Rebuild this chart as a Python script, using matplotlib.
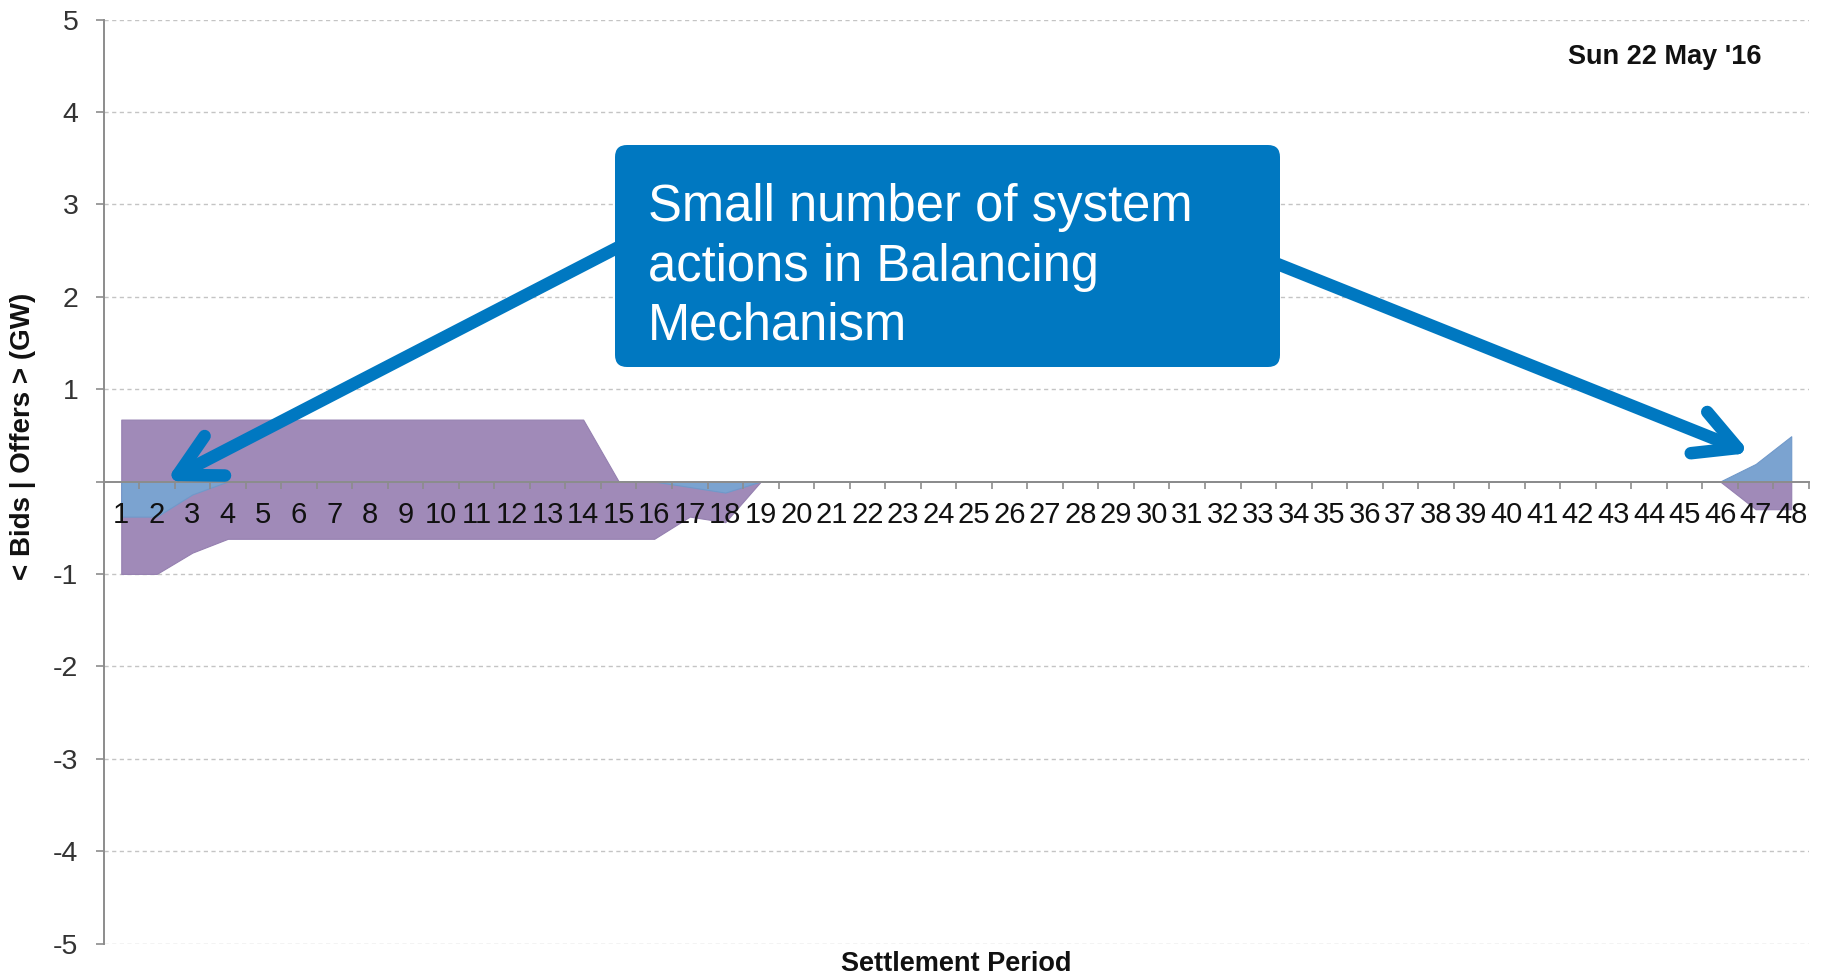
import matplotlib
matplotlib.use('Agg')
import matplotlib.pyplot as plt
from matplotlib.patches import FancyBboxPatch
from matplotlib.transforms import IdentityTransform

plt.rcParams['font.family'] = ['Liberation Sans', 'DejaVu Sans']

# ---------------- data ----------------
periods = list(range(1, 49))
period_labels = [str(p) for p in periods]

# purple series (total offers above zero / bids below zero), GW
purple_upper = [0.67, 0.67, 0.67, 0.67, 0.67, 0.67, 0.67, 0.67, 0.67, 0.67, 0.67, 0.67,
                0.67, 0.67, 0.0, 0.0, 0.0, 0.0, 0.0, 0.0, 0.0, 0.0, 0.0, 0.0,
                0.0, 0.0, 0.0, 0.0, 0.0, 0.0, 0.0, 0.0, 0.0, 0.0, 0.0, 0.0,
                0.0, 0.0, 0.0, 0.0, 0.0, 0.0, 0.0, 0.0, 0.0, 0.0, 0.0, 0.0]
purple_lower = [-1.0, -1.0, -0.77, -0.62, -0.62, -0.62, -0.62, -0.62, -0.62, -0.62, -0.62, -0.62,
                -0.62, -0.62, -0.62, -0.62, -0.38, -0.44, 0.0, 0.0, 0.0, 0.0, 0.0, 0.0,
                0.0, 0.0, 0.0, 0.0, 0.0, 0.0, 0.0, 0.0, 0.0, 0.0, 0.0, 0.0,
                0.0, 0.0, 0.0, 0.0, 0.0, 0.0, 0.0, 0.0, 0.0, 0.0, -0.30, -0.30]
# blue series (system actions in Balancing Mechanism), GW
blue_upper = [0.0, 0.0, 0.0, 0.0, 0.0, 0.0, 0.0, 0.0, 0.0, 0.0, 0.0, 0.0,
              0.0, 0.0, 0.0, 0.0, 0.0, 0.0, 0.0, 0.0, 0.0, 0.0, 0.0, 0.0,
              0.0, 0.0, 0.0, 0.0, 0.0, 0.0, 0.0, 0.0, 0.0, 0.0, 0.0, 0.0,
              0.0, 0.0, 0.0, 0.0, 0.0, 0.0, 0.0, 0.0, 0.0, 0.0, 0.19, 0.49]
blue_lower = [-0.38, -0.38, -0.14, 0.0, 0.0, 0.0, 0.0, 0.0, 0.0, 0.0, 0.0, 0.0,
              0.0, 0.0, 0.0, 0.0, -0.06, -0.12, 0.0, 0.0, 0.0, 0.0, 0.0, 0.0,
              0.0, 0.0, 0.0, 0.0, 0.0, 0.0, 0.0, 0.0, 0.0, 0.0, 0.0, 0.0,
              0.0, 0.0, 0.0, 0.0, 0.0, 0.0, 0.0, 0.0, 0.0, 0.0, 0.0, 0.0]

y_ticks = [-5, -4, -3, -2, -1, 0, 1, 2, 3, 4, 5]
y_tick_labels = ['-5', '-4', '-3', '-2', '-1', '', '1', '2', '3', '4', '5']

date_text = "Sun 22 May '16"
callout_lines = ["Small number of system", "actions in Balancing", "Mechanism"]

# ---------------- styling ----------------
PURPLE = '#A08AB8'
BLUE = '#7BA3D0'
CALLOUT = '#0078C1'
GRID = '#C4C4C4'
AXIS = '#8C8C8C'

W, H = 1823, 977
fig = plt.figure(figsize=(W / 100, H / 100), dpi=100)
ax = fig.add_axes([103.5 / W, (H - 943.5) / H, (1809 - 103.5) / W, 924 / H])

ax.fill_between(periods, purple_lower, purple_upper, facecolor=PURPLE,
                edgecolor='#9580B0', linewidth=0.8, zorder=1.2)
ax.fill_between(periods, blue_lower, blue_upper, facecolor=BLUE,
                edgecolor='#7099CA', linewidth=0.8, zorder=1.3)

ax.set_xlim(0.5, 48.5)
ax.set_ylim(-5, 5)

# grid
for v in y_ticks:
    if v != 0:
        ax.axhline(v, color=GRID, linewidth=1.0, linestyle=(0, (3, 2.5)), zorder=1)

# spines
for s in ['top', 'right']:
    ax.spines[s].set_visible(False)
ax.spines['left'].set_color(AXIS)
ax.spines['left'].set_linewidth(1.4)
ax.spines['bottom'].set_position(('data', 0))
ax.spines['bottom'].set_color(AXIS)
ax.spines['bottom'].set_linewidth(1.4)
ax.spines['bottom'].set_zorder(4)
ax.xaxis.set_zorder(4)
ax.yaxis.set_zorder(4)

# x ticks: labels at centres, tick marks at boundaries
ax.set_xticks(periods)
ax.set_xticklabels(period_labels)
ax.set_xticks([p - 0.5 for p in periods] + [48.5], minor=True)
ax.tick_params(axis='x', which='major', length=0, pad=14, labelsize=21,
               labelcolor='#111111')
ax.tick_params(axis='x', which='minor', length=5, width=1.2, color=AXIS,
               direction='out')

ax.set_yticks(y_ticks)
ax.set_yticklabels(y_tick_labels)
ax.tick_params(axis='y', which='major', length=6, width=1.2, color=AXIS,
               direction='out', pad=12, labelsize=20.5, labelcolor='#333333')

# texts
fig.text(23 / W, (H - 436) / H, '< Bids | Offers > (GW)', rotation=90,
         ha='center', va='center', fontsize=20, fontweight='bold', color='#111111')
fig.text(956 / W, (H - 964) / H, 'Settlement Period', ha='center', va='center',
         fontsize=19.5, fontweight='bold', color='#111111')
fig.text(1761 / W, (H - 57) / H, date_text, ha='right', va='center',
         fontsize=19.5, fontweight='bold', color='#111111')

# arrows
arrow_kw = dict(arrowstyle='->,head_length=1.5,head_width=0.8', color=CALLOUT,
                lw=9, shrinkA=0, shrinkB=0, capstyle='round', joinstyle='round',
                mutation_scale=20)
ax.annotate('', xy=(166, H - 481), xytext=(640, H - 236),
            xycoords='figure pixels', textcoords='figure pixels',
            arrowprops=arrow_kw, annotation_clip=False, zorder=6)
ax.annotate('', xy=(1750, H - 453), xytext=(1255, H - 255),
            xycoords='figure pixels', textcoords='figure pixels',
            arrowprops=arrow_kw, annotation_clip=False, zorder=6)

# callout box
box = FancyBboxPatch((615, H - 367), 665, 222,
                     boxstyle='round,pad=0,rounding_size=12',
                     facecolor=CALLOUT, edgecolor='none',
                     transform=IdentityTransform(), zorder=5)
fig.add_artist(box)
baselines = [221, 281, 340]
for line, yb in zip(callout_lines, baselines):
    fig.text(648, H - yb, line, transform=IdentityTransform(), color='white',
             fontsize=36.5, ha='left', va='baseline', zorder=6)

fig.savefig('out.png', dpi=100)
